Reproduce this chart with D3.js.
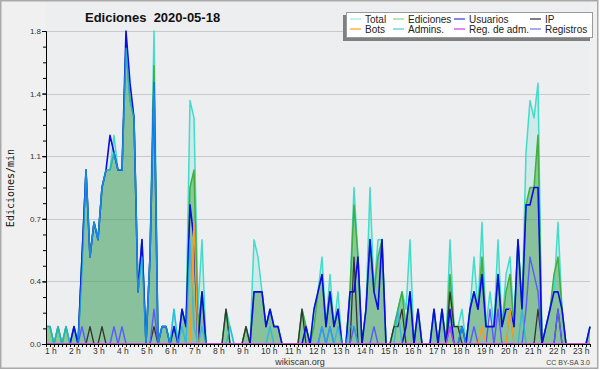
<!DOCTYPE html>
<html><head><meta charset="utf-8">
<script src="https://cdn.jsdelivr.net/npm/d3@7"></script>
<style>
html,body{margin:0;padding:0;background:#fff;}
svg{display:block;font-family:"Liberation Sans",Arial,sans-serif;}
</style></head>
<body>
<svg id="c" width="600" height="370"></svg>
<script>
// ---- data (edits per minute, 10-minute bins starting 1 h) ----
const startHour = 1;
const stepMinutes = 10;
const total = [
 0.1,0.1,0,0.1,0,0.1,0,0.1,0,0.5,
 1.0,0.5,0.7,0.6,0.9,1.0,1.0,1.2,1.0,1.0,
 1.7,1.4,1.3,0.3,0.6,0,0.5,1.8,0,0.1,
 0.1,0,0.2,0,0.2,0.1,1.4,1.3,0.2,0.6,
 0,0,0,0,0,0.2,0.1,0,0,0,
 0.1,0,0.6,0.5,0.3,0.1,0.2,0.1,0.1,0,
 0,0,0,0,0.2,0.1,0,0.2,0.3,0.5,
 0.1,0.4,0.1,0.3,0,0,0.3,0.9,0.5,0,
 0.2,0.9,0.3,0.6,0.6,0,0,0.1,0.2,0.3,
 0.2,0.6,0,0.2,0,0,0,0.2,0,0.2,
 0,0.6,0.1,0.1,0.2,0,0.2,0.5,0.2,0.7,
 0.1,0.3,0.1,0.6,0.1,0.4,0.5,0.1,0.6,0.2,
 1.1,1.4,1.3,1.5,0,0.1,0.2,0.3,0.7,0.2,
 0,0,0,0,0,0,0.1];
const ediciones = [
 0.1,0.1,0,0.1,0,0.1,0,0.1,0,0.5,
 1.0,0.5,0.7,0.6,0.9,1.0,1.0,1.1,1.0,1.0,
 1.7,1.4,1.3,0.3,0.6,0,0.5,1.6,0,0.1,
 0.1,0,0.1,0,0.2,0.1,0.9,1.0,0.1,0.3,
 0,0,0,0,0,0.2,0,0,0,0,
 0.1,0,0.3,0.3,0.3,0.1,0.2,0.1,0.1,0,
 0,0,0,0,0.2,0.1,0,0.1,0.3,0.4,
 0.1,0.3,0.1,0.2,0,0,0.3,0.8,0.5,0,
 0.2,0.6,0.3,0.5,0.6,0,0,0.1,0.2,0.3,
 0.1,0.3,0,0.2,0,0,0,0.2,0,0.2,
 0,0.4,0.1,0.1,0.1,0,0.2,0.3,0.2,0.5,
 0.1,0.1,0.1,0.4,0.1,0.3,0.4,0.1,0.6,0.2,
 0.8,0.9,0.9,1.2,0,0.1,0.2,0.4,0.5,0.2,
 0,0,0,0,0,0,0.1];
const usuarios = [
 0,0,0,0,0,0,0,0.1,0,0.5,
 1.0,0.5,0.7,0.6,0.9,1.0,1.2,1.1,1.0,1.0,
 1.8,1.5,1.3,0.3,0.6,0,0.5,1.5,0,0.1,
 0.1,0,0.1,0,0.2,0.1,0.8,0.6,0,0.3,
 0,0,0,0,0,0,0,0,0,0,
 0,0,0.3,0.3,0.3,0.1,0.2,0.1,0.1,0,
 0,0,0,0,0,0.1,0,0.2,0.3,0.4,
 0.1,0.3,0.1,0.2,0,0,0.3,0.3,0.5,0,
 0.2,0.6,0.3,0.2,0.6,0,0,0,0,0,
 0.1,0.3,0,0.2,0,0,0,0.2,0,0.2,
 0,0.2,0,0,0.1,0,0.2,0.3,0.2,0.4,
 0.1,0.1,0.1,0.4,0.1,0.2,0.2,0.1,0.6,0.2,
 0.8,0.8,0.9,0.9,0,0.1,0.2,0.3,0.3,0.2,
 0,0,0,0,0,0,0.1];
const ip = [
 0,0,0,0,0,0,0,0,0,0,
 0,0.1,0,0,0.1,0,0,0,0,0,
 0,0,0,0,0,0,0,0.1,0,0,
 0,0,0,0,0,0,0,0,0,0,
 0,0,0,0,0,0.2,0,0,0,0,
 0.1,0,0,0,0,0,0,0,0,0,
 0,0,0,0,0.2,0,0,0,0,0,
 0,0,0,0,0,0,0,0.5,0,0,
 0,0,0,0,0,0,0,0.1,0.1,0.2,
 0,0,0,0,0,0,0,0,0,0,
 0,0.3,0.1,0.1,0,0,0,0,0,0,
 0,0,0,0,0,0,0,0,0,0,
 0,0,0,0.2,0,0,0,0,0.2,0,
 0,0,0,0,0,0,0];
const bots = [
 0,0,0,0,0,0,0,0,0,0,
 0,0,0,0,0,0,0,0,0,0,
 0,0,0,0,0,0,0,0,0,0,
 0,0,0,0,0,0,0,0.7,0,0,
 0,0,0,0,0,0,0,0,0,0,
 0,0,0,0,0,0,0,0,0,0,
 0,0,0,0,0,0,0,0,0,0,
 0,0,0,0,0,0,0,0,0,0,
 0,0,0,0,0,0,0,0,0,0,
 0,0,0,0,0,0,0,0,0,0,
 0,0,0,0,0,0,0,0,0,0.1,
 0,0,0,0,0,0,0.2,0,0,0,
 0,0,0,0,0,0,0,0,0,0,
 0,0,0,0,0,0,0];
const admins = [
 0.1,0.1,0,0.1,0,0.1,0,0,0,0.4,
 1.0,0.5,0.7,0.6,0.9,1.0,1.0,1.1,1.0,1.0,
 1.7,1.4,1.3,0.3,0.5,0,0.5,1.5,0,0.1,
 0.1,0,0.2,0,0.1,0,0.6,0.1,0,0.1,
 0,0,0,0,0,0,0.1,0,0,0,
 0,0,0,0,0,0,0.1,0,0,0,
 0,0,0,0,0,0,0,0,0,0.1,
 0,0.1,0,0.1,0,0,0.1,0.1,0,0,
 0,0,0,0,0,0,0,0,0.2,0,
 0,0,0,0,0,0,0,0,0,0,
 0,0,0,0,0.1,0,0,0,0,0,
 0,0,0,0,0,0,0.2,0,0,0.2,
 0,0,0,0,0,0,0,0,0,0,
 0,0,0,0,0,0,0];
const regAdm = [
 0,0,0,0,0,0,0,0,0,0,
 0,0,0,0,0,0,0,0,0,0,
 0,0,0,0,0,0,0,0,0,0,
 0,0,0,0,0,0,0,0,0,0,
 0,0,0,0,0,0,0,0,0,0,
 0,0,0,0,0,0,0,0,0,0,
 0,0,0,0,0,0,0,0,0,0,
 0,0,0,0,0,0,0,0,0,0,
 0,0,0,0,0,0,0,0,0,0,
 0,0,0,0,0,0,0,0,0,0,
 0,0.1,0,0,0,0,0,0,0,0,
 0,0,0,0,0,0,0,0,0,0,
 0,0,0,0,0,0,0,0,0,0,
 0,0,0,0,0,0,0];
const registros = [
 0,0,0,0,0,0,0,0,0,0.1,
 0,0,0,0,0,0,0,0.1,0,0.1,
 0,0,0,0,0,0,0,0.2,0,0,
 0,0,0,0,0,0,0,0,0,0,
 0,0,0,0,0,0,0,0,0,0,
 0,0,0,0,0,0,0,0,0,0,
 0,0,0,0,0,0,0,0,0,0.1,
 0,0.1,0,0,0,0,0,0.1,0,0,
 0,0,0.1,0,0,0,0,0,0,0,
 0,0,0,0,0,0,0,0,0,0,
 0,0.1,0,0,0,0,0,0.1,0,0,
 0,0.2,0,0.2,0,0,0,0,0,0,
 0.2,0.5,0.4,0.3,0,0,0,0,0.2,0,
 0,0,0,0,0,0,0];
const hourTicks = [1,2,3,4,5,6,7,8,9,10,11,12,13,14,15,16,17,18,19,20,21,22,23];
const yTicks = [0,0.36,0.72,1.08,1.44,1.8];
const yMinorTicks = [0,0.09,0.18,0.27,0.36,0.45,0.54,0.63,0.72,0.81,0.9,0.99,1.08,1.17,1.26,1.35,1.44,1.53,1.62,1.71,1.8];
const legendNames = ["Total","Ediciones","Usuarios","IP","Bots","Admins.","Reg. de adm.","Registros"];

// ---- drawing ----
const svg = d3.select("#c");
const L = 46, R = 590, T = 31, B = 344;
const times = total.map((d,i)=> startHour + i*stepMinutes/60);
const x = d3.scaleLinear().domain([times[0], times[times.length-1]]).range([L,R]);
const y = d3.scaleLinear().domain([0,1.8]).range([B,T]);

svg.append("rect").attr("x",0.75).attr("y",0.75).attr("width",597).attr("height",367.5)
  .attr("fill","#f0f0f0").attr("stroke","#a9a9a9").attr("stroke-width",1.5);
svg.append("rect").attr("x",L).attr("y",2).attr("width",R-L).attr("height",B-2).attr("fill","#eceef0");

// grid
svg.append("g").selectAll("line").data(yTicks.slice(1)).join("line")
  .attr("x1",L).attr("x2",R).attr("y1",d=>Math.round(y(d))+0.5).attr("y2",d=>Math.round(y(d))+0.5)
  .attr("stroke","#c9c9c9").attr("stroke-width",1);

const pts = arr => arr.map((v,i)=>[times[i],v]);
const area = d3.area().x(d=>x(d[0])).y0(B).y1(d=>y(d[1]));
const line = d3.line().x(d=>x(d[0])).y(d=>y(d[1]));

const plot = svg.append("g");
plot.append("path").attr("d",area(pts(total))).attr("fill","rgba(64,214,196,0.16)");
plot.append("path").attr("d",area(pts(ediciones))).attr("fill","rgba(60,160,60,0.45)");
plot.append("path").attr("d",area(pts(usuarios))).attr("fill","rgba(20,20,200,0.04)");

const series = [
  [total,"#42dccb",1.5,1],
  [ediciones,"#40ae40",1.5,1],
  [ip,"#333333",1.3,1],
  [registros,"#5a5aff",1.4,1],
  [usuarios,"#0a0ae6",1.6,1],
  [admins,"#1cb6e6",1.5,0.75],
  [bots,"#ff9a1a",1.4,1],
  [regAdm,"#c040f0",1.3,1]
];
series.forEach(([arr,col,w,op])=>{
  plot.append("path").attr("d",line(pts(arr))).attr("fill","none")
    .attr("stroke",col).attr("stroke-width",w).attr("stroke-opacity",op).attr("stroke-linejoin","round");
});

// axes
const axStyle = g => {
  g.selectAll(".domain").attr("stroke","#000");
  g.selectAll(".tick line").attr("stroke","#000");
  g.selectAll("text").attr("fill","#333").style("font-family","'Liberation Sans',Arial,sans-serif");
};
svg.append("g").attr("transform",`translate(0,${B})`)
  .call(d3.axisBottom(x).tickValues(times).tickSize(3).tickSizeOuter(0).tickFormat(""))
  .call(axStyle);
svg.append("g").attr("transform",`translate(0,${B})`)
  .call(d3.axisBottom(x).tickValues(hourTicks).tickSize(3).tickSizeOuter(0).tickFormat(h=>h+" h"))
  .call(axStyle)
  .call(g=>g.selectAll("text").attr("text-anchor","start").attr("dx",-1.5).attr("y",4).attr("font-size",8.5));
svg.append("g").attr("transform",`translate(${L},0)`)
  .call(d3.axisLeft(y).tickValues(yMinorTicks).tickSize(3).tickSizeOuter(0).tickFormat(""))
  .call(axStyle);
svg.append("g").attr("transform",`translate(${L},0)`)
  .call(d3.axisLeft(y).tickValues(yTicks).tickSize(4).tickSizeOuter(0).tickFormat(d=>d.toFixed(1)))
  .call(axStyle)
  .call(g=>g.selectAll("text").attr("font-size",8).attr("x",-5));

// titles
svg.append("text").attr("x",85).attr("y",22).attr("font-size",13).attr("font-weight","bold")
  .attr("fill","#111").text("Ediciones  2020-05-18").style("white-space","pre");
svg.append("text").attr("transform","translate(14,188) rotate(-90)").attr("text-anchor","middle")
  .attr("font-family","'DejaVu Sans Mono',monospace").attr("font-size",10).attr("fill","#111").text("Ediciones/min");
svg.append("text").attr("x",300).attr("y",365).attr("text-anchor","middle").attr("font-size",9)
  .attr("fill","#333").text("wikiscan.org");
svg.append("text").attr("x",590).attr("y",365).attr("text-anchor","end").attr("font-size",7)
  .attr("fill","#444").text("CC BY-SA 3.0");

// legend
const leg = svg.append("g");
leg.append("rect").attr("x",343).attr("y",15).attr("width",247).attr("height",26).attr("fill","#808080");
leg.append("rect").attr("x",346.5).attr("y",12.5).attr("width",246).attr("height",25).attr("fill","#fff").attr("stroke","#999");
const legColors = ["#a6ebe2","#8ed88e","#4444dd","#3a3a3a","#ffa234","#48d4e6","#d24ae6","#7a7af2"];
const colX = [350,393,454,530];
legendNames.forEach((n,i)=>{
  const c = i%4, r = Math.floor(i/4);
  const yy = 19 + r*10;
  leg.append("line").attr("x1",colX[c]).attr("x2",colX[c]+11).attr("y1",yy).attr("y2",yy)
    .attr("stroke",legColors[i]).attr("stroke-width",1.3);
  leg.append("text").attr("x",colX[c]+15).attr("y",yy+3.5).attr("font-size",10).attr("fill","#222").text(n);
});
</script>
</body></html>
